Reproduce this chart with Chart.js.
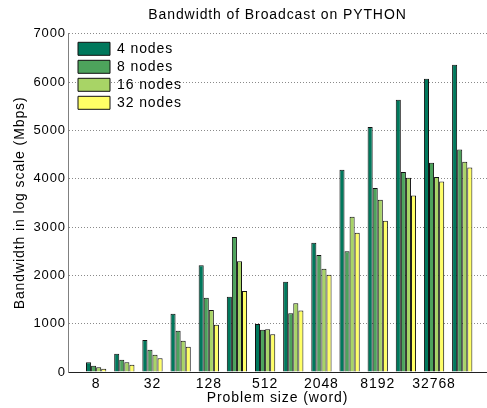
<!DOCTYPE html>
<html>
<head>
<meta charset="utf-8">
<script src="https://cdn.jsdelivr.net/npm/chart.js@4.4.0/dist/chart.umd.min.js"></script>
<style>
html,body{margin:0;padding:0;background:#fff;}
#wrap{width:487px;height:408px;}
</style>
</head>
<body>
<div id="wrap"><canvas id="c" width="487" height="408"></canvas></div>
<script>
const sizes = ['8','16','32','64','128','256','512','1024','2048','4096','8192','16384','32768','65536'];
const nodes4  = [200, 379, 662, 1207, 2207, 1559, 993, 1869, 2676, 4186, 5069, 5634, 6069, 6359];
const nodes8  = [131, 255, 462, 855, 1538, 2793, 876, 1214, 2421, 2497, 3807, 4138, 4331, 4607];
const nodes16 = [97, 200, 359, 648, 1283, 2290, 883, 1421, 2138, 3214, 3566, 4021, 4034, 4352];
const nodes32 = [69, 152, 283, 524, 979, 1676, 779, 1273, 2014, 2883, 3131, 3655, 3945, 4234];
const seriesNames = ['4 nodes','8 nodes','16 nodes','32 nodes'];
const yTicks = [0,1000,2000,3000,4000,5000,6000,7000];

const colors = ['#00785c','#4da35c','#a8d466','#ffff66'];
const allSeries = [nodes4, nodes8, nodes16, nodes32];

const datasets = allSeries.map((arr, k) => ({
  label: seriesNames[k],
  data: arr.map((v, i) => ({x: i + 1, y: v})),
  backgroundColor: colors[k],
  borderColor: '#111',
  borderWidth: 1,
  borderSkipped: 'bottom',
  categoryPercentage: 0.72,
  barPercentage: 1.0
}));

const font = 'Liberation Sans, Arial, Helvetica, sans-serif';
Chart.defaults.font.family = font;
Chart.defaults.color = '#000';

const spacing = {
  id: 'spacing',
  afterInit(chart) { chart.ctx.letterSpacing = '0.9px'; },
  beforeUpdate(chart) { chart.ctx.letterSpacing = '0.9px'; },
  beforeDraw(chart) { chart.ctx.letterSpacing = '0.9px'; }
};

const legendPlacer = {
  id: 'legendPlacer',
  afterLayout(chart) {
    const lg = chart.legend;
    const ca = chart.chartArea;
    if (!lg) return;
    const w = lg.width, h = lg.height;
    lg.left = ca.left + 6;
    lg.top = ca.top + 4;
    lg.right = lg.left + w;
    lg.bottom = lg.top + h;
  }
};

new Chart(document.getElementById('c'), {
  type: 'bar',
  data: { datasets },
  plugins: [spacing, legendPlacer],
  options: {
    responsive: false,
    animation: false,
    layout: { padding: 0 },
    plugins: {
      tooltip: { enabled: false },
      title: {
        display: true,
        text: 'Bandwidth of Broadcast on PYTHON',
        fullSize: false,
        font: { size: 14, weight: 'normal', family: font },
        color: '#000',
        padding: { top: 7, bottom: 10 }
      },
      legend: {
        position: 'chartArea',
        align: 'start',
        labels: {
          boxWidth: 32,
          boxHeight: 13,
          padding: 4,
          color: '#000',
          font: { size: 14, family: font }
        }
      }
    },
    scales: {
      x: {
        type: 'linear',
        offset: false,
        min: 0,
        max: 14.88,
        afterBuildTicks: (scale) => {
          scale.ticks = [1,3,5,7,9,11,13].map(v => ({ value: v }));
        },
        afterFit: (scale) => { scale.height = 36; },
        ticks: {
          autoSkip: false,
          maxRotation: 0,
          padding: 4,
          font: { size: 14, family: font },
          color: '#000',
          callback: (v) => sizes[v - 1]
        },
        grid: { display: false, drawTicks: false },
        border: { display: true, color: '#222', width: 1 },
        title: {
          display: true,
          text: 'Problem size (word)',
          font: { size: 14, family: font },
          color: '#000',
          padding: { top: 0, bottom: 1 }
        }
      },
      y: {
        min: 0,
        max: 7000,
        afterBuildTicks: (scale) => {
          scale.ticks = yTicks.map(v => ({ value: v }));
        },
        afterFit: (scale) => { scale.width = 68; },
        ticks: {
          padding: 2,
          font: { size: 13, family: font },
          color: '#000',
          callback: (v) => String(v)
        },
        grid: { color: '#8a8a8a', lineWidth: 1, drawTicks: false },
        border: { display: true, color: '#808080', width: 1, dash: [1, 2] },
        title: {
          display: true,
          text: 'Bandwidth in log scale (Mbps)',
          font: { size: 14, family: font },
          color: '#000',
          padding: { top: 12, bottom: 0 }
        }
      }
    }
  }
});
</script>
</body>
</html>
